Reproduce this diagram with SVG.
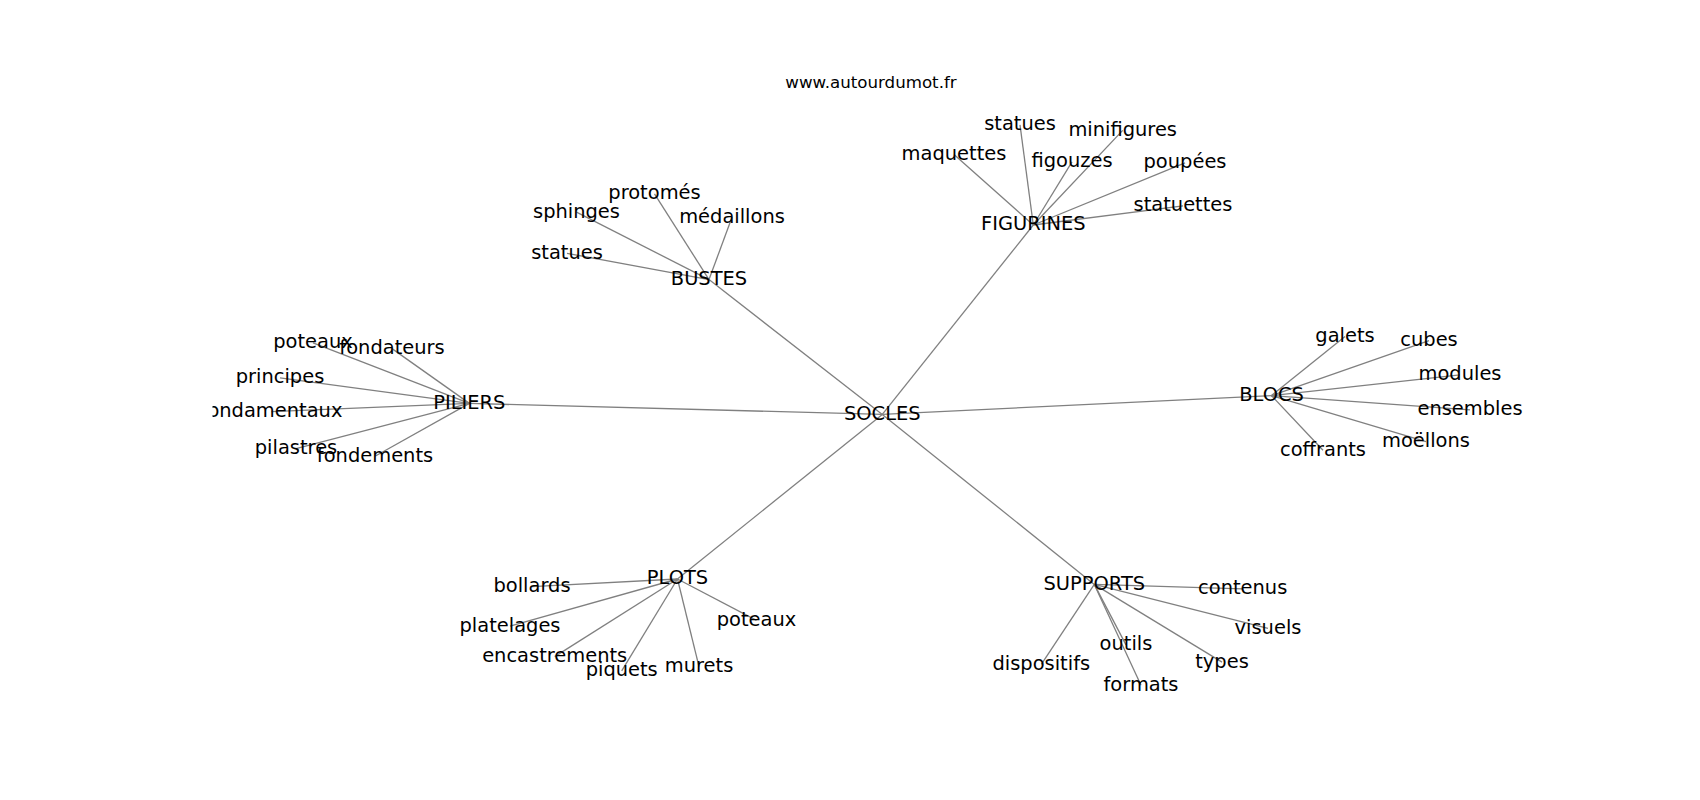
<svg xmlns="http://www.w3.org/2000/svg" width="1700" height="800" viewBox="0 0 1700 800">
<style>
text{font-family:"DejaVu Sans","Liberation Sans",sans-serif;fill:#000}
.n{font-size:19.44px;text-anchor:middle}
.t{font-size:16.67px;text-anchor:middle}
#edges line{stroke:#808080;stroke-width:1.3}
</style>
<defs><clipPath id="ax"><rect x="212.5" y="96" width="1317.5" height="616"/></clipPath></defs>
<rect width="1700" height="800" fill="#fff"/>
<text class="t" x="871" y="88">www.autourdumot.fr</text>
<g clip-path="url(#ax)">
<g id="edges">
<line x1="882.3" y1="414.4" x2="469.4" y2="403.4"/>
<line x1="882.3" y1="414.4" x2="709" y2="279.6"/>
<line x1="882.3" y1="414.4" x2="1033.3" y2="225"/>
<line x1="882.3" y1="414.4" x2="1271.5" y2="395.6"/>
<line x1="882.3" y1="414.4" x2="1094.3" y2="584.4"/>
<line x1="882.3" y1="414.4" x2="677.5" y2="579"/>
<line x1="469.4" y1="403.4" x2="313" y2="342.8"/>
<line x1="469.4" y1="403.4" x2="392" y2="348.6"/>
<line x1="469.4" y1="403.4" x2="280" y2="377.8"/>
<line x1="469.4" y1="403.4" x2="271.5" y2="411.6"/>
<line x1="469.4" y1="403.4" x2="296" y2="448.6"/>
<line x1="469.4" y1="403.4" x2="375" y2="456.3"/>
<line x1="709" y1="279.6" x2="654.5" y2="193.8"/>
<line x1="709" y1="279.6" x2="576.5" y2="212.1"/>
<line x1="709" y1="279.6" x2="732" y2="217.3"/>
<line x1="709" y1="279.6" x2="567" y2="253.3"/>
<line x1="1033.3" y1="225" x2="1020" y2="124.9"/>
<line x1="1033.3" y1="225" x2="1122.7" y2="130.4"/>
<line x1="1033.3" y1="225" x2="954" y2="154.4"/>
<line x1="1033.3" y1="225" x2="1072" y2="161.8"/>
<line x1="1033.3" y1="225" x2="1185" y2="162.8"/>
<line x1="1033.3" y1="225" x2="1183" y2="205.9"/>
<line x1="1271.5" y1="395.6" x2="1345" y2="336.4"/>
<line x1="1271.5" y1="395.6" x2="1429" y2="340.6"/>
<line x1="1271.5" y1="395.6" x2="1460" y2="374.9"/>
<line x1="1271.5" y1="395.6" x2="1470" y2="409.9"/>
<line x1="1271.5" y1="395.6" x2="1426" y2="441.6"/>
<line x1="1271.5" y1="395.6" x2="1323" y2="450.3"/>
<line x1="677.5" y1="579" x2="532" y2="586.6"/>
<line x1="677.5" y1="579" x2="510" y2="626.1"/>
<line x1="677.5" y1="579" x2="554.7" y2="656.6"/>
<line x1="677.5" y1="579" x2="621.7" y2="670.9"/>
<line x1="677.5" y1="579" x2="699" y2="666.6"/>
<line x1="677.5" y1="579" x2="756.5" y2="620.4"/>
<line x1="1094.3" y1="584.4" x2="1242.7" y2="588.9"/>
<line x1="1094.3" y1="584.4" x2="1268" y2="628.3"/>
<line x1="1094.3" y1="584.4" x2="1126" y2="644.9"/>
<line x1="1094.3" y1="584.4" x2="1041.3" y2="664.3"/>
<line x1="1094.3" y1="584.4" x2="1222" y2="662.1"/>
<line x1="1094.3" y1="584.4" x2="1141" y2="685.3"/>
</g>
<g id="n-socles"><text class="n" x="882.3" y="419.8">SOCLES</text></g>
<g id="n-piliers"><text class="n" x="469.4" y="408.8">PILIERS</text></g>
<g id="n-bustes"><text class="n" x="709" y="285">BUSTES</text></g>
<g id="n-figurines"><text class="n" x="1033.3" y="230.4">FIGURINES</text></g>
<g id="n-blocs"><text class="n" x="1271.5" y="401">BLOCS</text></g>
<g id="n-supports"><text class="n" x="1094.3" y="589.8">SUPPORTS</text></g>
<g id="n-plots"><text class="n" x="677.5" y="584.4">PLOTS</text></g>
<g id="n-poteaux1"><text class="n" x="313" y="348.2">poteaux</text></g>
<g id="n-fondateurs"><text class="n" x="392" y="354">fondateurs</text></g>
<g id="n-principes"><text class="n" x="280" y="383.2">principes</text></g>
<g id="n-fondamentaux"><text class="n" x="271.5" y="417">fondamentaux</text></g>
<g id="n-pilastres"><text class="n" x="296" y="454">pilastres</text></g>
<g id="n-fondements"><text class="n" x="375" y="461.7">fondements</text></g>
<g id="n-protomes"><text class="n" x="654.5" y="199.2">protomés</text></g>
<g id="n-sphinges"><text class="n" x="576.5" y="217.5">sphinges</text></g>
<g id="n-medaillons"><text class="n" x="732" y="222.7">médaillons</text></g>
<g id="n-statues1"><text class="n" x="567" y="258.7">statues</text></g>
<g id="n-statues2"><text class="n" x="1020" y="130.3">statues</text></g>
<g id="n-minifigures"><text class="n" x="1122.7" y="135.8">minifigures</text></g>
<g id="n-maquettes"><text class="n" x="954" y="159.8">maquettes</text></g>
<g id="n-figouzes"><text class="n" x="1072" y="167.2">figouzes</text></g>
<g id="n-poupees"><text class="n" x="1185" y="168.2">poupées</text></g>
<g id="n-statuettes"><text class="n" x="1183" y="211.3">statuettes</text></g>
<g id="n-galets"><text class="n" x="1345" y="341.8">galets</text></g>
<g id="n-cubes"><text class="n" x="1429" y="346">cubes</text></g>
<g id="n-modules"><text class="n" x="1460" y="380.3">modules</text></g>
<g id="n-ensembles"><text class="n" x="1470" y="415.3">ensembles</text></g>
<g id="n-moellons"><text class="n" x="1426" y="447">moëllons</text></g>
<g id="n-coffrants"><text class="n" x="1323" y="455.7">coffrants</text></g>
<g id="n-bollards"><text class="n" x="532" y="592">bollards</text></g>
<g id="n-platelages"><text class="n" x="510" y="631.5">platelages</text></g>
<g id="n-encastrements"><text class="n" x="554.7" y="662">encastrements</text></g>
<g id="n-piquets"><text class="n" x="621.7" y="676.3">piquets</text></g>
<g id="n-murets"><text class="n" x="699" y="672">murets</text></g>
<g id="n-poteaux2"><text class="n" x="756.5" y="625.8">poteaux</text></g>
<g id="n-contenus"><text class="n" x="1242.7" y="594.3">contenus</text></g>
<g id="n-visuels"><text class="n" x="1268" y="633.7">visuels</text></g>
<g id="n-outils"><text class="n" x="1126" y="650.3">outils</text></g>
<g id="n-dispositifs"><text class="n" x="1041.3" y="669.7">dispositifs</text></g>
<g id="n-types"><text class="n" x="1222" y="667.5">types</text></g>
<g id="n-formats"><text class="n" x="1141" y="690.7">formats</text></g>
</g>
</svg>
